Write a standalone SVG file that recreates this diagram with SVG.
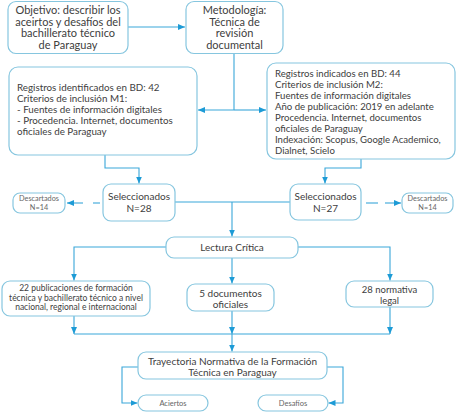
<svg xmlns="http://www.w3.org/2000/svg" width="457" height="413" viewBox="0 0 457 413">
<defs>
<marker id="ah" markerUnits="userSpaceOnUse" markerWidth="8" markerHeight="7" refX="7" refY="3" orient="auto">
<path d="M0,0 L7,3 L0,6 z" fill="#1d9bd6"/>
</marker>
<style>
.box{fill:#fff;stroke:#86c6df;stroke-width:1.2}
.c{fill:none;stroke:#3aa7d9;stroke-width:1.1}
.t{font-family:Lato,"Open Sans",sans-serif;fill:#404040}
.m{text-anchor:middle}
.s{fill:#666}
</style>
</defs>
<rect width="457" height="413" fill="#fff"/>
<g id="connectors">
<line class="c" x1="128" y1="27" x2="185" y2="27" marker-end="url(#ah)"/>
<line class="c" x1="234" y1="53.5" x2="234" y2="110"/>
<line class="c" x1="234" y1="110" x2="198" y2="110" marker-end="url(#ah)"/>
<line class="c" x1="234" y1="110" x2="266" y2="110" marker-end="url(#ah)"/>
<polyline class="c" points="105,155 105,168 139,168 139,183.5" marker-end="url(#ah)"/>
<polyline class="c" points="361,159 361,168 325,168 325,183.5" marker-end="url(#ah)"/>
<line class="c" x1="175" y1="202" x2="290" y2="202"/>
<line class="c" x1="232" y1="202" x2="232" y2="236.5" marker-end="url(#ah)"/>
<line class="c" x1="100" y1="203" x2="93" y2="203"/>
<line class="c" x1="83" y1="203" x2="67" y2="203" marker-end="url(#ah)"/>
<line class="c" x1="366" y1="203" x2="378" y2="203"/>
<line class="c" x1="385" y1="203" x2="401" y2="203" marker-end="url(#ah)"/>
<polyline class="c" points="166,247 74,247 74,280.5" marker-end="url(#ah)"/>
<polyline class="c" points="298,247 390,247 390,280.5" marker-end="url(#ah)"/>
<line class="c" x1="232" y1="258" x2="232" y2="283.5" marker-end="url(#ah)"/>
<line class="c" x1="74" y1="316" x2="74" y2="334" marker-end="url(#ah)"/>
<line class="c" x1="232" y1="311" x2="232" y2="334" marker-end="url(#ah)"/>
<line class="c" x1="390" y1="307" x2="390" y2="334" marker-end="url(#ah)"/>
<line class="c" x1="74" y1="334" x2="390" y2="334"/>
<line class="c" x1="232" y1="334" x2="232" y2="351.5" marker-end="url(#ah)"/>
<polyline class="c" points="138,367 122,367 122,403 137.5,403" marker-end="url(#ah)"/>
<polyline class="c" points="327,367 343,367 343,403 328.5,403" marker-end="url(#ah)"/>
</g>
<g id="objetivo">
<rect class="box" x="8" y="1.5" width="120" height="52" rx="8"/>
<text class="t m" font-size="11"><tspan x="68" y="13.8">Objetivo: describir los</tspan><tspan x="68" y="25.5">aceirtos y desafíos del</tspan><tspan x="68" y="37.2">bachillerato técnico</tspan><tspan x="68" y="48.8">de Paraguay</tspan></text>
</g>
<g id="metodologia">
<rect class="box" x="186" y="1.5" width="97" height="52" rx="8"/>
<text class="t m" font-size="11"><tspan x="234.5" y="13.8">Metodología:</tspan><tspan x="234.5" y="25.5">Técnica de</tspan><tspan x="234.5" y="37.2">revisión</tspan><tspan x="234.5" y="48.8">documental</tspan></text>
</g>
<g id="registros-m1">
<rect class="box" x="9" y="67" width="188" height="88" rx="9"/>
<text class="t" font-size="9.8"><tspan x="17" y="91">Registros identificados en BD: 42</tspan><tspan x="17" y="102">Criterios de inclusión M1:</tspan><tspan x="17" y="113">- Fuentes de información digitales</tspan><tspan x="17" y="124">- Procedencia. Internet, documentos</tspan><tspan x="17" y="135">oficiales de  Paraguay</tspan></text>
</g>
<g id="registros-m2">
<rect class="box" x="267" y="63" width="188" height="96" rx="9"/>
<text class="t" font-size="9.6"><tspan x="275" y="76.5">Registros indicados en BD: 44</tspan><tspan x="275" y="87.5">Criterios de inclusión M2:</tspan><tspan x="275" y="98.5">Fuentes de información digitales</tspan><tspan x="275" y="109.5">Año de publicación: 2019 en adelante</tspan><tspan x="275" y="120.5">Procedencia. Internet, documentos</tspan><tspan x="275" y="131.5">oficiales de  Paraguay</tspan><tspan x="275" y="142.5">Indexación: Scopus, Google Academico,</tspan><tspan x="275" y="153.5">Dialnet, Scielo</tspan></text>
</g>
<g id="seleccionados-28">
<rect class="box" x="103" y="184" width="72" height="37" rx="8"/>
<text class="t m" font-size="10"><tspan x="139" y="200">Seleccionados</tspan><tspan x="139" y="211.5">N=28</tspan></text>
</g>
<g id="seleccionados-27">
<rect class="box" x="290" y="184" width="71" height="36" rx="8"/>
<text class="t m" font-size="10"><tspan x="325.5" y="200">Seleccionados</tspan><tspan x="325.5" y="211.5">N=27</tspan></text>
</g>
<g id="descartados-1">
<rect class="box" x="13" y="193" width="52" height="20" rx="7"/>
<text class="t m s" font-size="7.3"><tspan x="39" y="200.8">Descartados</tspan><tspan x="39" y="209.5">N=14</tspan></text>
</g>
<g id="descartados-2">
<rect class="box" x="402" y="193" width="51" height="20" rx="7"/>
<text class="t m s" font-size="7.3"><tspan x="427.5" y="200.8">Descartados</tspan><tspan x="427.5" y="209.5">N=14</tspan></text>
</g>
<g id="lectura">
<rect class="box" x="166" y="237" width="132" height="21" rx="8"/>
<text class="t m" font-size="10" x="232" y="251">Lectura Crítica</text>
</g>
<g id="publicaciones">
<rect class="box" x="2" y="281" width="148" height="35" rx="8"/>
<text class="t m" font-size="8.5"><tspan x="76" y="291">22 publicaciones de formación</tspan><tspan x="76" y="300.5">técnica y bachillerato técnico a nivel</tspan><tspan x="76" y="310">nacional, regional e internacional</tspan></text>
</g>
<g id="documentos">
<rect class="box" x="187" y="284" width="87" height="27" rx="8"/>
<text class="t m" font-size="10"><tspan x="230.5" y="296.5">5 documentos</tspan><tspan x="230.5" y="307.5">oficiales</tspan></text>
</g>
<g id="normativa">
<rect class="box" x="346" y="281" width="87" height="26" rx="8"/>
<text class="t m" font-size="9.5"><tspan x="389.5" y="292.5">28 normativa</tspan><tspan x="389.5" y="303.5">legal</tspan></text>
</g>
<g id="trayectoria">
<rect class="box" x="138" y="352" width="189" height="27" rx="8"/>
<text class="t m" font-size="10"><tspan x="232.5" y="364.5">Trayectoria Normativa de la Formación</tspan><tspan x="232.5" y="375.5">Técnica en Paraguay</tspan></text>
</g>
<g id="aciertos">
<rect class="box" x="138" y="395" width="70" height="16" rx="8"/>
<text class="t m s" font-size="7.5" x="173" y="405.6">Aciertos</text>
</g>
<g id="desafios">
<rect class="box" x="258" y="395" width="70" height="16" rx="8"/>
<text class="t m s" font-size="7.5" x="293" y="405.6">Desafíos</text>
</g>
</svg>
